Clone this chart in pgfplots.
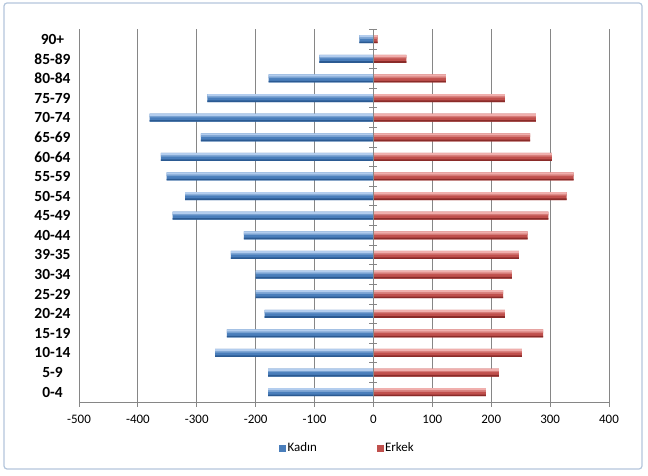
\documentclass[border=0pt]{standalone}
\usepackage{fontspec}
\setmainfont{Carlito}
\usepackage{pgfplots}
\pgfplotsset{compat=1.18}
\usepackage{pgfplotstable}
\definecolor{bmid}{HTML}{4A7EBB}
\definecolor{btop}{HTML}{B3CDEE}
\definecolor{bbot}{HTML}{2B5A92}
\definecolor{rmid}{HTML}{C0504D}
\definecolor{rtop}{HTML}{F0AFAD}
\definecolor{rbot}{HTML}{8A2B29}
\definecolor{gridg}{HTML}{868686}
\definecolor{frame}{HTML}{B4C6DC}
\pgfplotstableread{
y kadin erkek
0 -179 191
1 -179 213
2 -269 252
3 -249 288
4 -185 223
5 -200 220
6 -200 235
7 -242 247
8 -220 262
9 -341 297
10 -320 328
11 -351 340
12 -361 303
13 -293 266
14 -380 276
15 -282 223
16 -178 123
17 -92 56
18 -24 7
}\data
\begin{document}
\begin{tikzpicture}
\useasboundingbox (0,0) rectangle (648bp,476bp);
\fill[white] (0,0) rectangle (648bp,476bp);
\draw[frame, line width=1.2bp, rounded corners=3bp] (4bp,7bp) rectangle (642bp,473bp);
\begin{axis}[
  at={(79bp,74bp)}, anchor=south west,
  scale only axis, width=530bp, height=372.6bp,
  xmin=-500, xmax=400, ymin=-0.5, ymax=18.5,
  axis x line=bottom, axis y line=left,
  axis line style={gridg, line width=0.8bp, -},
  xtick={-500,-400,...,400},
  ytick={0,...,18},
  yticklabels={0-4,5-9,10-14,15-19,20-24,25-29,30-34,39-35,40-44,45-49,50-54,55-59,60-64,65-69,70-74,75-79,80-84,85-89,90+},
  xmajorgrids, major grid style={gridg, line width=0.8bp},
  x tick style={gridg, line width=0.8bp},
  xtick align=outside, major tick length=5bp,
  y tick style={draw=none},
  /pgf/number format/assume math mode=true,
  x tick label style={font=\fontsize{13}{15}\selectfont, yshift=-5bp},
  y tick label style={font=\bfseries\fontsize{15.5}{17}\selectfont, anchor=center, xshift=-24bp},
  legend columns=2,
  legend style={at={(0.506,-0.1235)}, anchor=center, draw=none, fill=none,
    font=\fontsize{13}{15}\selectfont,
    /tikz/every even column/.append style={column sep=58bp},
    nodes={inner sep=1.5bp}},
  legend image code/.code={\fill[#1] (0bp,-3.5bp) rectangle (7bp,3.5bp);},
]
% Kadin: base + shading bands
\addplot[xbar, bar width=8bp, bar shift=0pt, draw=none, fill=bmid] table[x=kadin, y=y] {\data};
\addlegendentry{Kadın}
\addplot[xbar, bar width=1.6bp, bar shift=-3.2bp, draw=none, fill=bbot, forget plot] table[x=kadin, y=y] {\data};
\addplot[xbar, bar width=1.5bp, bar shift=1.1bp, draw=none, fill=bmid!55!btop, forget plot] table[x=kadin, y=y] {\data};
\addplot[xbar, bar width=2.2bp, bar shift=2.9bp, draw=none, fill=btop, forget plot] table[x=kadin, y=y] {\data};
% Erkek
\addplot[xbar, bar width=8bp, bar shift=0pt, draw=none, fill=rmid] table[x=erkek, y=y] {\data};
\addlegendentry{Erkek}
\addplot[xbar, bar width=1.6bp, bar shift=-3.2bp, draw=none, fill=rbot, forget plot] table[x=erkek, y=y] {\data};
\addplot[xbar, bar width=1.5bp, bar shift=1.1bp, draw=none, fill=rmid!55!rtop, forget plot] table[x=erkek, y=y] {\data};
\addplot[xbar, bar width=2.2bp, bar shift=2.9bp, draw=none, fill=rtop, forget plot] table[x=erkek, y=y] {\data};
\draw[gridg, line width=0.8bp] (axis cs:0,-0.5) -- (axis cs:0,18.5);
\pgfplotsinvokeforeach{0,...,19}{
  \draw[gridg, line width=0.8bp] ([xshift=-4bp]axis cs:0,#1-0.5) -- ([xshift=4bp]axis cs:0,#1-0.5);
}
\end{axis}
\end{tikzpicture}
\end{document}
